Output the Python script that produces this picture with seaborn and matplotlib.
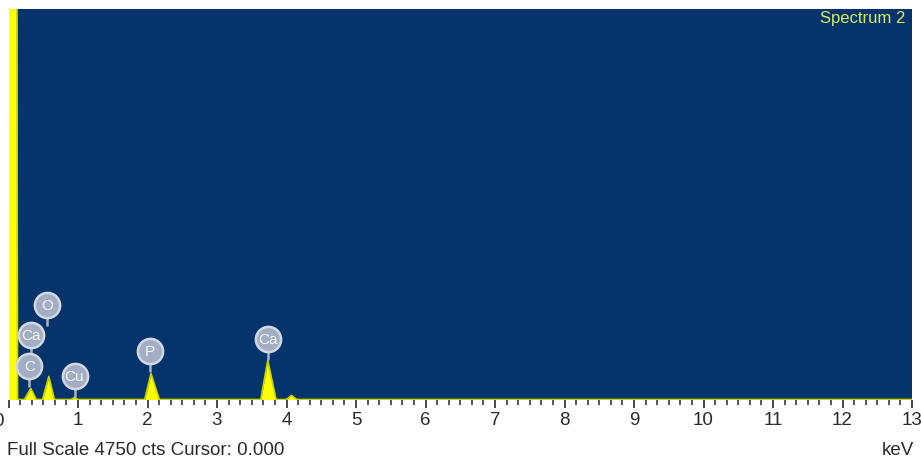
import matplotlib
matplotlib.use("Agg")
import matplotlib.pyplot as plt
import pandas as pd
import seaborn as sns
from matplotlib.ticker import MultipleLocator, AutoMinorLocator

# ---- data ----
energy_kev = [0.0, 0.12, 0.13, 0.23, 0.32, 0.40, 0.49, 0.58, 0.66, 0.90, 0.95, 1.00,
              1.96, 2.05, 2.17, 3.63, 3.73, 3.85, 4.00, 4.07, 4.15, 13.0]
counts = [5200, 5200, 0, 0, 134, 0, 0, 280, 0, 0, 25, 0,
          0, 316, 0, 0, 474, 0, 0, 50, 0, 0]

peak_labels = ["O", "Ca", "C", "Cu", "P", "Ca"]
label_energy = [0.56, 0.33, 0.30, 0.95, 2.03, 3.73]
label_counts = [1154, 781, 413, 280, 587, 741]

tick_values = list(range(0, 14))
tick_labels = [""] + [str(v) for v in range(1, 14)]

full_scale = 4750

# ---- styling ----
sns.set_style("white")
plt.rcParams["font.family"] = ["Liberation Sans", "DejaVu Sans"]

W, H = 921, 464
fig = plt.figure(figsize=(W / 100, H / 100), dpi=100)
left_px, right_px, top_px, bottom_px = 8.5, 912, 10, 400.5
ax = fig.add_axes([left_px / W, 1 - bottom_px / H,
                   (right_px - left_px) / W, (bottom_px - top_px) / H])
ax.set_facecolor("#05336b")

df = pd.DataFrame({"energy": energy_kev, "counts": counts})
ax.fill_between(df["energy"], df["counts"], color="#ffff00", lw=0, zorder=2)
sns.lineplot(data=df, x="energy", y="counts", ax=ax, color="#c8d400",
             lw=1.2, sort=False, estimator=None, zorder=3)

ax.set_xlim(0, 13)
ax.set_ylim(0, full_scale)
ax.set_xlabel("")
ax.set_ylabel("")
ax.set_yticks([])

# label bubbles
px_per_count = (bottom_px - top_px) / full_scale
r_counts = 12 / px_per_count
stem_counts = 9 / px_per_count
top_stem = [c - r_counts for c in label_counts]
bot_stem = [c - r_counts - stem_counts for c in label_counts]
ax.vlines(label_energy, bot_stem, top_stem, colors="#aab4c8", lw=1.8, zorder=4)
ax.scatter(label_energy, label_counts, s=330, c="#a3aec4", edgecolors="#d2d8e2",
           linewidths=1.8, zorder=5, clip_on=False)
for name, e, c in zip(peak_labels, label_energy, label_counts):
    ax.text(e, c, name, ha="center", va="center", color="#f4f6fa",
            fontsize=11, zorder=6)

for s in ax.spines.values():
    s.set_visible(False)

ax.set_xticks(tick_values)
ax.set_xticklabels(tick_labels)
ax.xaxis.set_minor_locator(AutoMinorLocator(6))
ax.tick_params(axis="x", which="major", bottom=True, length=5.5, width=1.2,
               color="#2a2a2a", labelsize=13.5, labelcolor="#2a2a2a", pad=2.5)
ax.tick_params(axis="x", which="minor", bottom=True, length=3.5, width=1.1,
               color="#2a2a2a")

txt_col = "#2a2a2a"
fig.text(-2 / W, 1 - 422 / H, "0", ha="center", va="center",
         fontsize=13.5, color=txt_col)
fig.text(7 / W, 1 - 451 / H, "Full Scale 4750 cts Cursor: 0.000", ha="left",
         va="center", fontsize=13.5, color=txt_col)
fig.text(914 / W, 1 - 451 / H, "keV", ha="right", va="center",
         fontsize=13.5, color=txt_col)
fig.text(905 / W, 1 - 19 / H, "Spectrum 2", ha="right", va="center",
         fontsize=12, color="#d6ee5c")

fig.savefig("out.png", dpi=100, facecolor="white")
